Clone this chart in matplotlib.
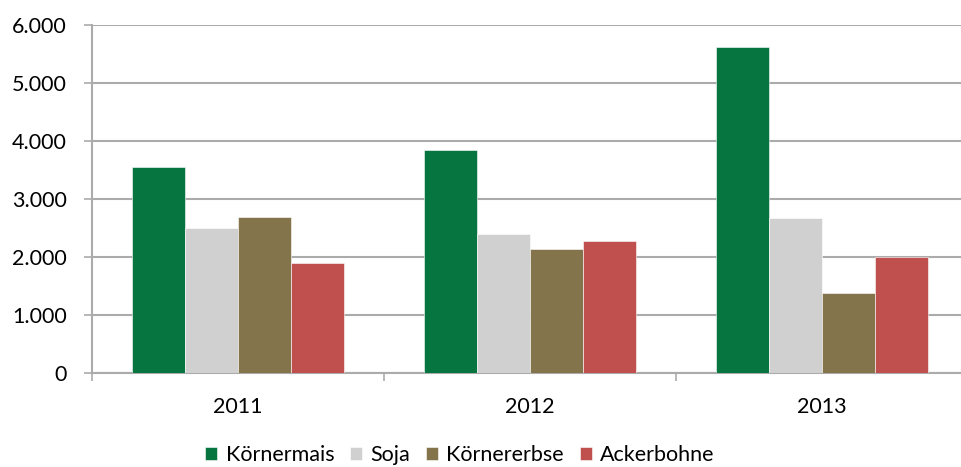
import numpy as np
import matplotlib
matplotlib.use("Agg")
import matplotlib.pyplot as plt
from matplotlib.ticker import FuncFormatter, FixedLocator

# data
years = ["2011", "2012", "2013"]
koernermais = [3560, 3850, 5620]
soja = [2500, 2390, 2680]
koernererbse = [2690, 2130, 1380]
ackerbohne = [1900, 2270, 2000]

series_names = ["Körnermais", "Soja", "Körnererbse", "Ackerbohne"]
colors = ["#07753F", "#CFD0CF", "#84744C", "#C0504D"]

plt.rcParams["font.family"] = ["Lato", "DejaVu Sans"]
plt.rcParams["font.size"] = 15.5

fig = plt.figure(figsize=(9.61, 4.67), dpi=100)
ax = fig.add_axes([92 / 961, 94 / 467, 876 / 961, 348 / 467])

x = np.arange(len(years))
w = 0.1815
all_series = [koernermais, soja, koernererbse, ackerbohne]
for i, (vals, name, col) in enumerate(zip(all_series, series_names, colors)):
    ax.bar(x + (i - 1.5) * w, vals, width=w, color=col, label=name,
           edgecolor="white", linewidth=0.4, zorder=3)

grid_col = "#ABABAB"
ax.set_ylim(0, 6000)
ax.set_xlim(-0.5, 2.5)
ax.set_yticks(np.arange(0, 6001, 1000))
ax.yaxis.set_major_formatter(FuncFormatter(lambda v, p: f"{int(v):,}".replace(",", ".")))
ax.grid(axis="y", color=grid_col, linewidth=1.5, zorder=0)

ax.set_xticks(x)
ax.set_xticklabels(years)
ax.xaxis.set_minor_locator(FixedLocator([-0.5, 0.5, 1.5, 2.5]))
ax.tick_params(axis="x", which="major", length=0, pad=17, colors="#000000")
ax.tick_params(axis="x", which="minor", length=6, width=1.2, color=grid_col)
ax.tick_params(axis="y", length=6, width=1.2, color=grid_col, pad=12)

for s in ["top", "right"]:
    ax.spines[s].set_visible(False)
for s in ["left", "bottom"]:
    ax.spines[s].set_color(grid_col)
    ax.spines[s].set_linewidth(1.5)

fig.legend(loc="center", bbox_to_anchor=(460 / 961, 12 / 467), ncol=4,
           frameon=False, handlelength=0.55, handleheight=0.55,
           handletextpad=0.38, columnspacing=0.75, borderaxespad=0)

fig.savefig("out.png", dpi=100)
